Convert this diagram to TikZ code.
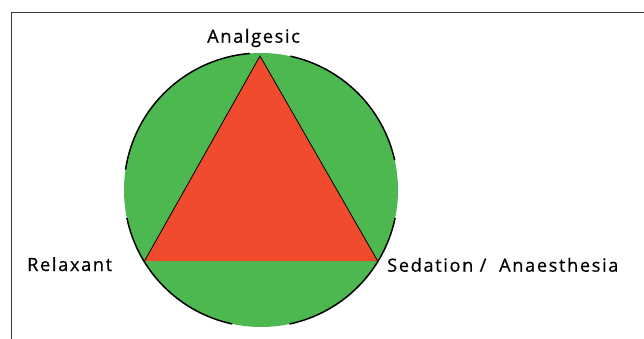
\documentclass[tikz,border=0pt]{standalone}
\usepackage{fontspec}
\setmainfont{Open Sans}[LetterSpace=9, FakeBold=0.6]
\definecolor{cgreen}{RGB}{77,184,80}
\definecolor{cred}{RGB}{239,75,44}
\definecolor{frame}{RGB}{60,60,60}
\begin{document}
\begin{tikzpicture}[x=1pt,y=-1pt,
  lbl/.style={font=\fontsize{18.2}{20}\selectfont, inner sep=0pt, anchor=base west},
  rim/.style={draw=black, line width=1.5pt},
  edge/.style={draw=black, line width=0.8pt}]
\useasboundingbox (0,0) rectangle (644,339);
% frame
\draw[frame, line width=1pt] (11,339) -- (11,13) -- (644,13);
% circle
\coordinate (c) at (261,190);
\fill[cgreen] (c) circle[radius=137pt];
\draw[rim] ([shift={(94.7:137pt)}]c) arc[start angle=94.7, end angle=171.5, radius=137pt];
\draw[rim] ([shift={(12.6:137pt)}]c) arc[start angle=12.6, end angle=77.6, radius=137pt];
\draw[rim] ([shift={(191.8:137pt)}]c) arc[start angle=191.8, end angle=257.9, radius=137pt];
\draw[rim] ([shift={(-78:137pt)}]c) arc[start angle=-78, end angle=-11.8, radius=137pt];
% triangle
\coordinate (top) at (260,56);
\coordinate (bl) at (144.5,261);
\coordinate (br) at (377.7,261);
\fill[cred] (top) -- (bl) -- (br) -- cycle;
\draw[edge] (bl) -- (top) -- (br);
% labels
\node[lbl] (an) at (207,42.7) {Analgesic};
\node[lbl] (re) at (27,271) {Relaxant};
\node[lbl] (se) at (387,271.7) {Sedation / \ Anaesthesia};
\end{tikzpicture}
\end{document}
